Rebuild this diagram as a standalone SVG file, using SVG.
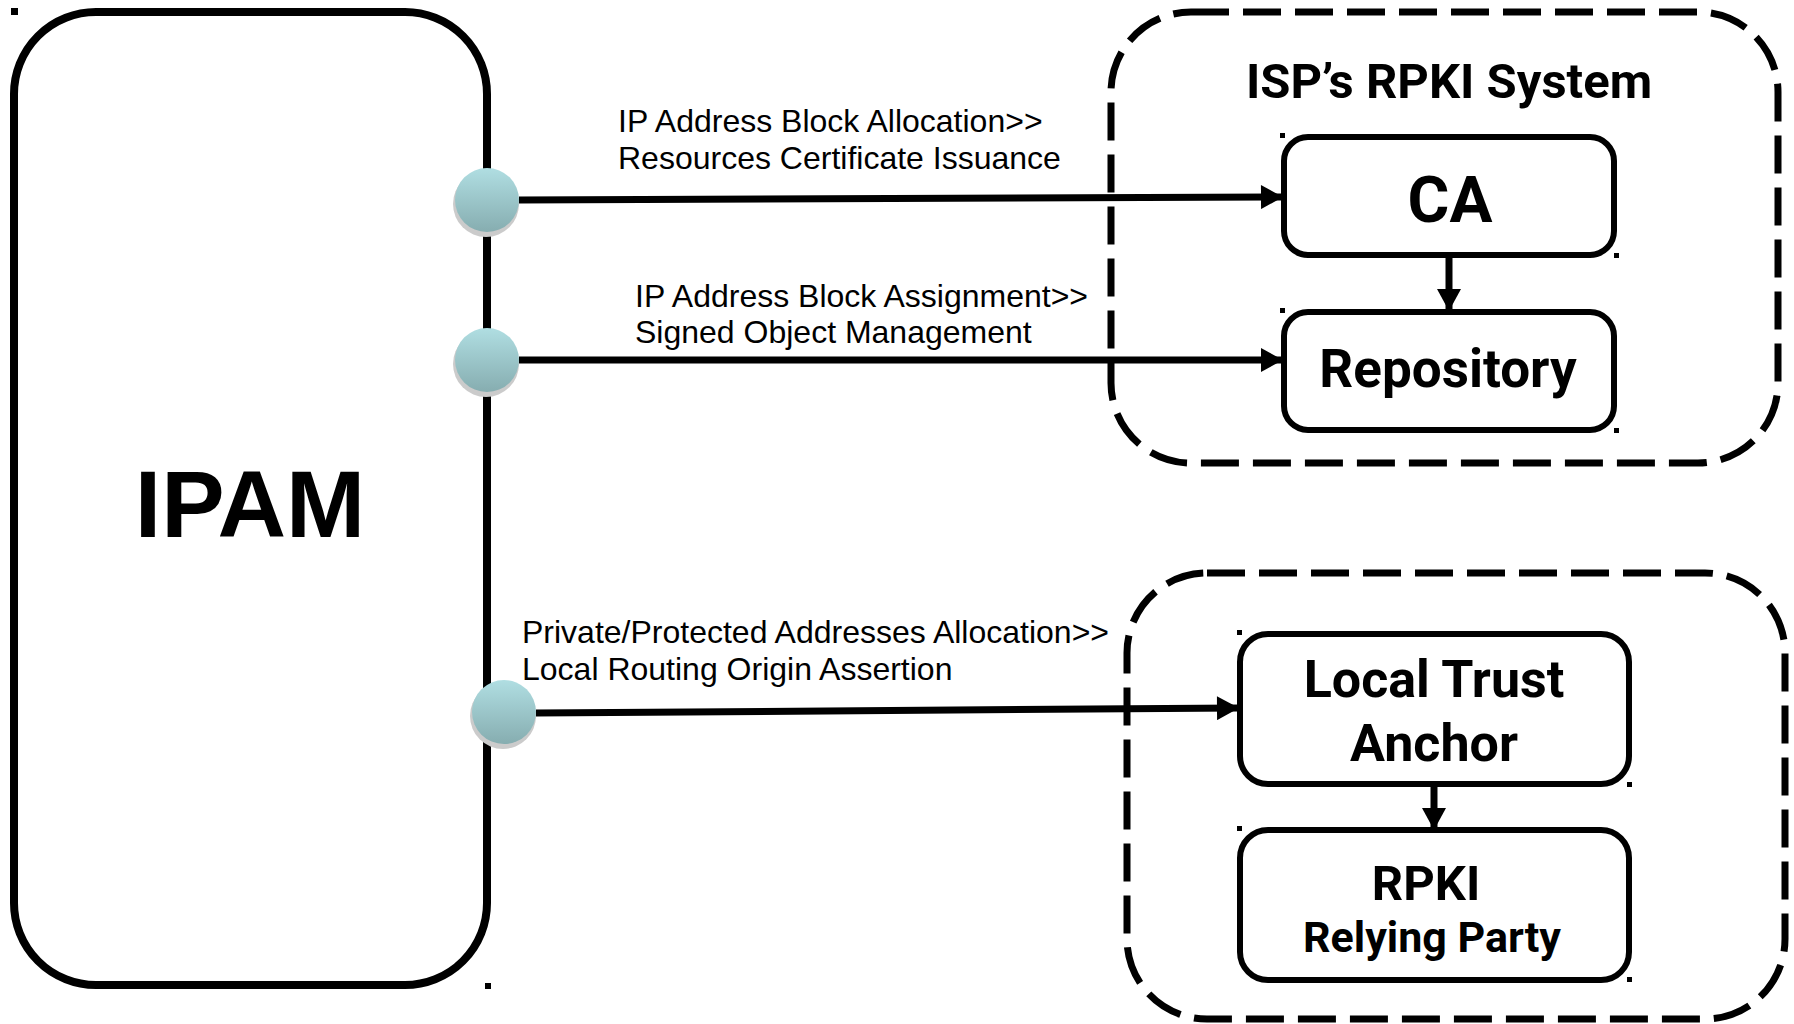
<svg xmlns="http://www.w3.org/2000/svg" width="1794" height="1024" viewBox="0 0 1794 1024">
<defs>
<linearGradient id="g" x1="0" y1="0" x2="0" y2="1">
<stop offset="0" stop-color="#B0DEE2"/>
<stop offset="1" stop-color="#86ADB0"/>
</linearGradient>
<marker id="ah" markerUnits="userSpaceOnUse" markerWidth="24" markerHeight="24" viewBox="0 0 22 24" refX="22" refY="12" orient="auto">
<path d="M0,0 L22,12 L0,24 Z" fill="#000"/>
</marker>
<style>
.box{fill:#fff;stroke:#000;stroke-width:6}
.dash{fill:none;stroke:#000;stroke-width:7;stroke-dasharray:38 14}
.con{fill:none;stroke:#000;stroke-width:7;marker-end:url(#ah)}
.lbl{font-family:"Liberation Sans",Arial,sans-serif;font-size:32px;fill:#000}
.bold{font-family:Roboto,"Liberation Sans",sans-serif;font-weight:bold;fill:#000;text-anchor:middle}
.h{fill:#000}
.sh{fill:#CBCBCB}
.dot{fill:url(#g)}
</style>
</defs>
<rect width="1794" height="1024" fill="#fff"/>

<g id="ipam">
<rect x="14" y="12" width="473" height="973" rx="82" ry="82" fill="#fff" stroke="#000" stroke-width="8"/>
<text x="250" y="537" font-family="'Liberation Sans',Arial,sans-serif" font-weight="bold" font-size="95" text-anchor="middle">IPAM</text>
<rect class="h" x="11" y="8" width="7" height="7"/>
<rect class="h" x="485" y="983" width="6" height="6"/>
</g>

<g id="isp-rpki-system">
<rect class="dash" x="1111" y="12" width="667" height="451" rx="80" ry="80"/>
<text class="bold" x="1449" y="98" font-size="49">ISP’s RPKI System</text>
</g>

<g id="ca">
<rect class="box" x="1284" y="137" width="330" height="118" rx="24"/>
<text class="bold" x="1450" y="222" font-size="64">CA</text>
<rect class="h" x="1280" y="133" width="5" height="5"/>
<rect class="h" x="1614" y="253" width="5" height="5"/>
</g>

<g id="repository">
<rect class="box" x="1284" y="312" width="330" height="118" rx="24"/>
<text class="bold" x="1448" y="387" font-size="53">Repository</text>
<rect class="h" x="1280" y="308" width="5" height="5"/>
<rect class="h" x="1614" y="428" width="5" height="5"/>
</g>

<g id="local-system">
<rect class="dash" x="1127" y="573" width="658" height="446" rx="80" ry="80"/>
</g>

<g id="lta">
<rect class="box" x="1240" y="634" width="389" height="150" rx="28"/>
<text class="bold" x="1434" y="697" font-size="52">Local Trust</text>
<text class="bold" x="1434" y="761" font-size="52">Anchor</text>
<rect class="h" x="1237" y="630" width="5" height="5"/>
<rect class="h" x="1627" y="782" width="5" height="5"/>
</g>

<g id="rp">
<rect class="box" x="1240" y="830" width="389" height="150" rx="28"/>
<text class="bold" x="1426" y="900" font-size="49">RPKI</text>
<text class="bold" x="1432" y="952" font-size="43">Relying Party</text>
<rect class="h" x="1237" y="826" width="5" height="5"/>
<rect class="h" x="1627" y="977" width="5" height="5"/>
</g>

<g id="connectors">
<path class="con" d="M519,200 L1283,197"/>
<path class="con" d="M519,360 L1283,360"/>
<path class="con" d="M536,713 L1239,708"/>
<path class="con" d="M1449,255 L1449,311"/>
<path class="con" d="M1434,784 L1434,830"/>
</g>

<g id="labels">
<text class="lbl" x="618" y="132">IP Address Block Allocation&gt;&gt;</text>
<text class="lbl" x="618" y="169">Resources Certificate Issuance</text>
<text class="lbl" x="635" y="307">IP Address Block Assignment&gt;&gt;</text>
<text class="lbl" x="635" y="343">Signed Object Management</text>
<text class="lbl" x="522" y="643">Private/Protected Addresses Allocation&gt;&gt;</text>
<text class="lbl" x="522" y="680">Local Routing Origin Assertion</text>
</g>

<g id="port1">
<ellipse class="sh" cx="486" cy="204" rx="33" ry="33"/>
<ellipse class="dot" cx="487" cy="200" rx="32" ry="32"/>
</g>
<g id="port2">
<ellipse class="sh" cx="486" cy="364" rx="33" ry="33"/>
<ellipse class="dot" cx="487" cy="360" rx="32" ry="32"/>
</g>
<g id="port3">
<ellipse class="sh" cx="503" cy="716" rx="33" ry="33"/>
<ellipse class="dot" cx="504" cy="712" rx="32" ry="32"/>
</g>
</svg>
